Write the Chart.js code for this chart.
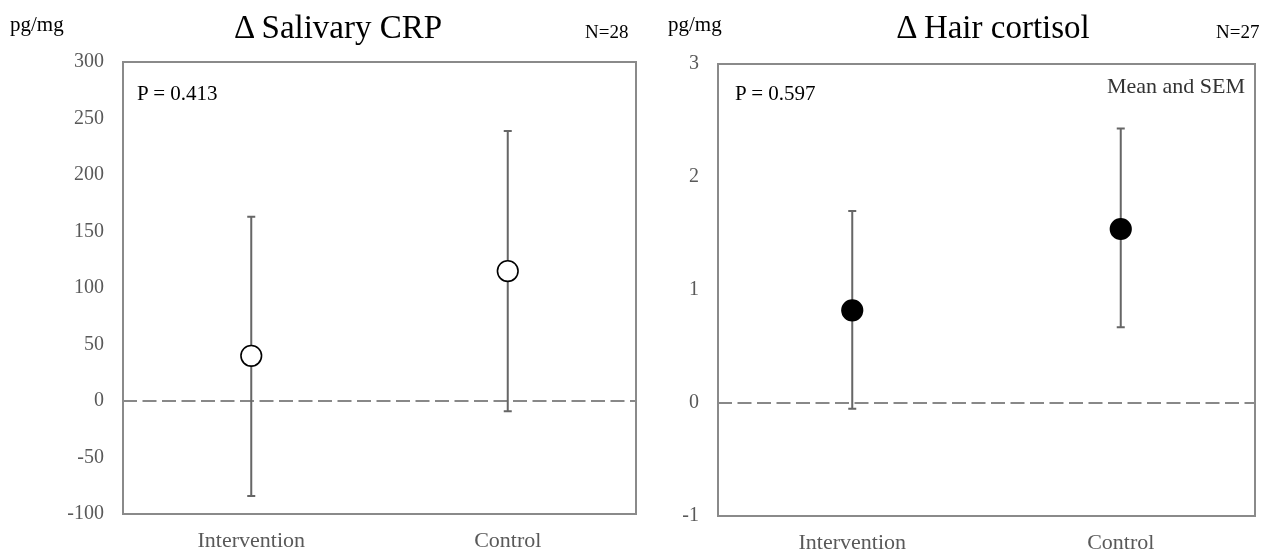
<!DOCTYPE html>
<html lang="en">
  <head>
    <meta charset="UTF-8" />
    <title>Salivary CRP and Hair cortisol</title>
    <style>
      body {
        margin: 0;
        background-color: white;
        font-family: "Liberation Serif", "Times New Roman", serif;
      }
      #wrap {
        position: relative;
        width: 1263px;
        height: 549px;
        overflow: hidden;
      }
      .panel {
        position: absolute;
        top: 0;
        height: 549px;
      }
      .panel canvas {
        position: absolute;
        left: 0;
        top: 0;
      }
      .txt {
        position: absolute;
        line-height: 1;
        white-space: nowrap;
        color: #000;
        font-size: 21px;
      }
      .title {
        font-size: 33px;
        transform: translateX(-50%);
      }
      .n {
        font-size: 19px;
      }
    </style>
    <script src="https://cdn.jsdelivr.net/npm/chart.js"></script>
  </head>
  <body>
    <div id="wrap">
      <div class="panel" style="left: 0; width: 640px">
        <canvas id="crpChart" width="640" height="549"></canvas>
        <div class="txt" style="left: 10px; top: 14px">pg/mg</div>
        <div class="txt title" style="left: 338px; top: 11px">Δ Salivary CRP</div>
        <div class="txt n" style="left: 585px; top: 22px">N=28</div>
        <div class="txt" style="left: 137px; top: 83px">P = 0.413</div>
      </div>
      <div class="panel" style="left: 640px; width: 623px">
        <canvas id="cortChart" width="623" height="549"></canvas>
        <div class="txt" style="left: 28px; top: 14px">pg/mg</div>
        <div class="txt title" style="left: 353px; top: 11px">Δ Hair cortisol</div>
        <div class="txt n" style="left: 576px; top: 22px">N=27</div>
        <div class="txt" style="left: 95px; top: 83px">P = 0.597</div>
        <div class="txt" style="right: 18px; top: 75px; color: #333; font-size: 22px">Mean and SEM</div>
      </div>
    </div>

    <script>
      // data
      const groups = ["Intervention", "Control"];

      const crpMean = [40, 115];
      const crpUpper = [163, 239];
      const crpLower = [-84, -9];
      const crpTicks = [-100, -50, 0, 50, 100, 150, 200, 250, 300];

      const cortMean = [0.82, 1.54];
      const cortUpper = [1.7, 2.43];
      const cortLower = [-0.05, 0.67];
      const cortTicks = [-1, 0, 1, 2, 3];

      const serif = "'Liberation Serif', 'Times New Roman', serif";

      // frame, zero line and SEM bars
      const extrasPlugin = {
        id: "extras",
        beforeDatasetsDraw(chart, args, opts) {
          const ctx = chart.ctx;
          const area = chart.chartArea;
          const x = chart.scales.x;
          const y = chart.scales.y;

          ctx.save();
          // dashed zero line
          const y0 = y.getPixelForValue(0);
          ctx.strokeStyle = "#888888";
          ctx.lineWidth = 2;
          ctx.setLineDash([14, 5.5]);
          ctx.beginPath();
          ctx.moveTo(area.left, y0);
          ctx.lineTo(area.right, y0);
          ctx.stroke();
          ctx.setLineDash([]);

          // error bars
          ctx.strokeStyle = "#666666";
          ctx.lineWidth = 2;
          opts.upper.forEach(function (hi, i) {
            const px = x.getPixelForValue(i);
            const top = y.getPixelForValue(hi);
            const bot = y.getPixelForValue(opts.lower[i]);
            ctx.beginPath();
            ctx.moveTo(px, top);
            ctx.lineTo(px, bot);
            ctx.moveTo(px - 4, top);
            ctx.lineTo(px + 4, top);
            ctx.moveTo(px - 4, bot);
            ctx.lineTo(px + 4, bot);
            ctx.stroke();
          });

          // plot frame
          ctx.strokeStyle = "#8a8a8a";
          ctx.lineWidth = 2;
          ctx.strokeRect(area.left, area.top, area.right - area.left, area.bottom - area.top);
          ctx.restore();
        },
      };

      function makeChart(id, means, upper, lower, ticks, fill, axisW, pad) {
        const ctx = document.getElementById(id).getContext("2d");
        return new Chart(ctx, {
          type: "line",
          data: {
            labels: groups,
            datasets: [
              {
                data: means,
                showLine: false,
                pointRadius: 10.3,
                pointHoverRadius: 10.3,
                pointBackgroundColor: fill,
                pointBorderColor: "#000000",
                pointBorderWidth: 1.6,
              },
            ],
          },
          options: {
            responsive: false,
            animation: false,
            layout: { padding: pad, autoPadding: false },
            plugins: {
              legend: { display: false },
              tooltip: { enabled: false },
              extras: { upper: upper, lower: lower },
            },
            scales: {
              x: {
                offset: true,
                grid: { display: false, drawTicks: false },
                border: { display: false },
                ticks: {
                  padding: 14,
                  color: "#595959",
                  font: { family: serif, size: 22 },
                },
                afterFit(scale) {
                  scale.height = pad.axisH;
                  scale.paddingLeft = 0;
                  scale.paddingRight = 0;
                },
              },
              y: {
                min: ticks[0],
                max: ticks[ticks.length - 1],
                grid: { display: false, drawTicks: false },
                border: { display: false },
                afterBuildTicks(scale) {
                  scale.ticks = ticks.map((v) => ({ value: v }));
                },
                ticks: {
                  padding: 19,
                  color: "#595959",
                  font: { family: serif, size: 20 },
                },
                afterFit(scale) {
                  scale.width = axisW;
                },
              },
            },
          },
          plugins: [extrasPlugin],
        });
      }

      makeChart("crpChart", crpMean, crpUpper, crpLower, crpTicks, "#ffffff", 123,
        { top: 62, right: 4, left: 0, bottom: 0, axisH: 35 });
      makeChart("cortChart", cortMean, cortUpper, cortLower, cortTicks, "#000000", 78,
        { top: 64, right: 8, left: 0, bottom: 0, axisH: 33 });
    </script>
  </body>
</html>
